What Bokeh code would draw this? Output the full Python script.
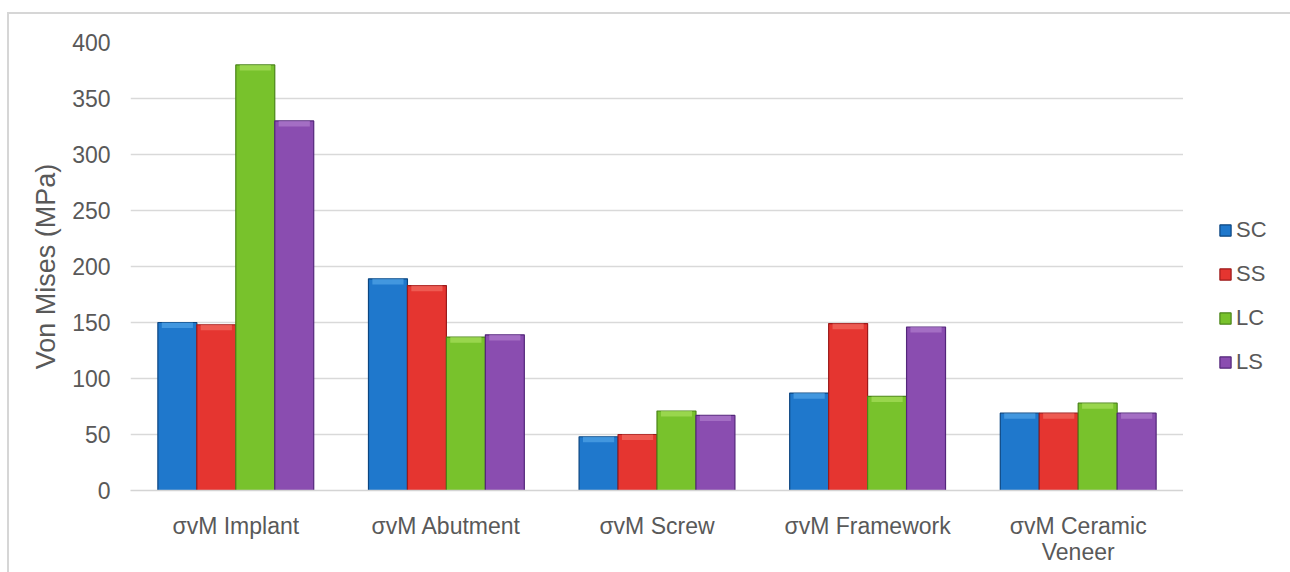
from bokeh.plotting import figure
from bokeh.models import ColumnDataSource, FactorRange, Range1d, Legend, LegendItem, SingleIntervalTicker
from bokeh.layouts import row
from bokeh.transform import dodge
from bokeh.embed import file_html
from bokeh.resources import INLINE

categories = ["σvM Implant", "σvM Abutment", "σvM Screw", "σvM Framework", "σvM Ceramic\nVeneer"]
SC = [150, 189, 48, 87, 69]
SS = [148, 183, 50, 149, 69]
LC = [380, 137, 71, 84, 78]
LS = [330, 139, 67, 146, 69]
series_names = ["SC", "SS", "LC", "LS"]

fills = ["#1f78cc", "#e53530", "#78c22c", "#8a4db0"]
edges = ["#0b4580", "#9c1a1a", "#4a8418", "#53267a"]
tops = ["#5fb0ee", "#f57a70", "#b4e86a", "#b98ad6"]

data = dict(cat=categories, SC=SC, SS=SS, LC=LC, LS=LS)
for n in series_names:
    data[n + "_hi"] = [v - 5 for v in data[n]]
src = ColumnDataSource(data)

H = 558
p = figure(x_range=FactorRange(*categories), y_range=Range1d(0, 400),
           width=1174, height=H, output_backend="svg", toolbar_location=None,
           min_border_left=121, min_border_right=0, min_border_top=28, min_border_bottom=82)
p.outline_line_color = None
p.background_fill_color = "white"

w = 0.185
offsets = [-1.5 * w, -0.5 * w, 0.5 * w, 1.5 * w]
for n, off, fc, ec, tc in zip(series_names, offsets, fills, edges, tops):
    p.vbar(x=dodge("cat", off, range=p.x_range), top=n, width=w, source=src,
           fill_color=fc, line_color=ec, line_width=1.2)
    p.vbar(x=dodge("cat", off, range=p.x_range), top=n, bottom=n + "_hi", width=w * 0.8,
           source=src, fill_color=tc, fill_alpha=0.55, line_color=None)

font = "Liberation Sans"
gray = "#595959"

p.yaxis.ticker = SingleIntervalTicker(interval=50)
p.yaxis.axis_line_color = None
p.yaxis.major_tick_line_color = None
p.yaxis.minor_tick_line_color = None
p.yaxis.major_label_text_font = font
p.yaxis.major_label_text_font_size = "23px"
p.yaxis.major_label_text_color = gray
p.yaxis.major_label_standoff = 14
p.yaxis.axis_label = "Von Mises (MPa)"
p.yaxis.axis_label_text_font = font
p.yaxis.axis_label_text_font_size = "27px"
p.yaxis.axis_label_text_font_style = "normal"
p.yaxis.axis_label_text_color = gray
p.yaxis.axis_label_standoff = 8

p.xaxis.axis_line_color = "#d4d4d4"
p.xaxis.axis_line_width = 1.5
p.xaxis.major_tick_line_color = None
p.xaxis.minor_tick_line_color = None
p.xaxis.major_label_text_font = font
p.xaxis.major_label_text_font_size = "23px"
p.xaxis.major_label_text_line_height = 1.0
p.xaxis.major_label_text_color = gray
p.xaxis.major_label_standoff = 16

p.xgrid.grid_line_color = None
p.ygrid.grid_line_color = "#d9d9d9"
p.ygrid.grid_line_width = 1.5

# legend panel (hidden renderers; only their legend swatches show)
pl = figure(width=107, height=H, output_backend="svg", toolbar_location=None,
            x_range=Range1d(0, 1), y_range=Range1d(0, 1),
            min_border_left=0, min_border_right=0, min_border_top=0, min_border_bottom=0)
pl.axis.visible = False
pl.grid.visible = False
pl.outline_line_color = None
items = []
for n, fc, ec in zip(series_names, fills, edges):
    r = pl.vbar(x=n, top=n, width=1, source=src, fill_color=fc, line_color=ec, line_width=1.2)
    r.visible = False
    items.append(LegendItem(label=n, renderers=[r]))
legend = Legend(items=items, location=(35, 115), orientation="vertical",
                glyph_width=14, glyph_height=14, label_height=22, spacing=18,
                label_text_font=font, label_text_font_size="22px", label_text_color=gray,
                label_standoff=4, padding=0, margin=0, border_line_color=None,
                background_fill_alpha=0, inactive_fill_alpha=0)
pl.add_layout(legend, "center")

layout = row(p, pl)
layout.margin = (12, 0, 0, 7)
layout.styles = {"border-left": "2px solid #d6d6d6", "border-top": "2px solid #d6d6d6"}

open("out.html", "w").write(file_html(layout, INLINE))
